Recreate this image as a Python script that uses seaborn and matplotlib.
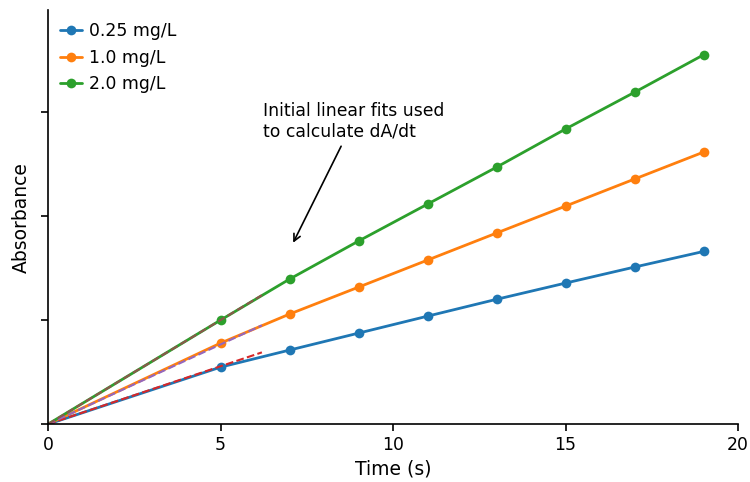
import matplotlib
matplotlib.use("Agg")
import matplotlib.pyplot as plt
import seaborn as sns
import pandas as pd

sns.set_theme(style="ticks")
plt.rcParams['font.family'] = ['DejaVu Sans']
plt.rcParams['text.color'] = 'black'
plt.rcParams['axes.labelcolor'] = 'black'

time_s = [0, 5, 7, 9, 11, 13, 15, 17, 19]
abs_025 = [0, 0.0548, 0.0712, 0.0875, 0.1038, 0.1200, 0.1356, 0.1510, 0.1660]
abs_10 = [0, 0.0779, 0.1058, 0.1317, 0.1577, 0.1837, 0.2096, 0.2356, 0.2615]
abs_20 = [0, 0.1000, 0.1394, 0.1760, 0.2115, 0.2470, 0.2837, 0.3190, 0.3550]
labels = ["0.25 mg/L", "1.0 mg/L", "2.0 mg/L"]

fit_t = [0, 6.2]
fit_025 = [0, 0.0690]
fit_10 = [0, 0.0950]
fit_20 = [0, 0.1240]

fig = plt.figure(figsize=(7.5, 4.82), dpi=100)
ax = fig.add_axes([0.064, 0.120, 0.920, 0.859])

series = [abs_025, abs_10, abs_20]
fits = [fit_025, fit_10, fit_20]
colors = ["#1f77b4", "#ff7f0e", "#2ca02c"]
fit_colors = ["#d62728", "#9467bd", "#8c564b"]

for vals, lab, c in zip(series, labels, colors):
    df = pd.DataFrame({"t": time_s, "A": vals})
    sns.lineplot(data=df, x="t", y="A", ax=ax, color=c, label=lab, marker="o",
                 markersize=7, markeredgewidth=0, linewidth=2,
                 markevery=list(range(1, len(time_s))))

for fv, c in zip(fits, fit_colors):
    df = pd.DataFrame({"t": fit_t, "A": fv})
    sns.lineplot(data=df, x="t", y="A", ax=ax, color=c, linestyle="--",
                 linewidth=1.5, legend=False)

ax.set_xlim(0, 20)
ax.set_ylim(0, 0.398)
ax.set_xticks([0, 5, 10, 15, 20])
ax.set_yticks([0, 0.1, 0.2, 0.3])
ax.set_yticklabels([])
ax.tick_params(axis="both", labelsize=12.4, length=5, width=1.2, colors="black")
for s in ["left", "bottom"]:
    ax.spines[s].set_color("black")
    ax.spines[s].set_linewidth(1.2)
sns.despine(ax=ax)
ax.set_xlabel("Time (s)", fontsize=13.5, color="black")
ax.set_ylabel("Absorbance", fontsize=13.5, color="black")

ax.annotate("Initial linear fits used\nto calculate dA/dt", xy=(7.07, 0.172),
            xytext=(6.23, 0.31), fontsize=12.4, va="top", ha="left", color="black",
            arrowprops=dict(arrowstyle="->", color="black", lw=1.2))

leg = ax.legend(loc="upper left", frameon=False, fontsize=12.4,
                handlelength=1.3, handletextpad=0.4, borderaxespad=0.3)
for t in leg.get_texts():
    t.set_color("black")

fig.savefig("out.png", dpi=100)
